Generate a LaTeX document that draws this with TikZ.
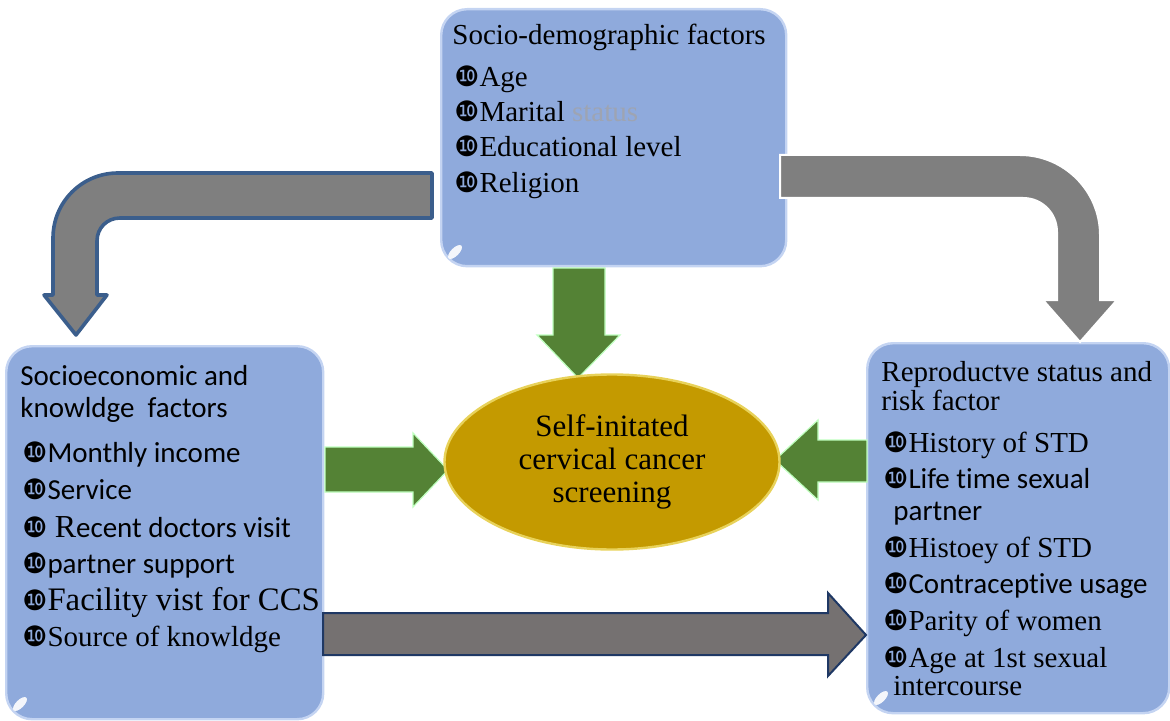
\documentclass[tikz,border=0pt]{standalone}
\usepackage{fontspec}
\setmainfont{Liberation Serif}
\newfontfamily\carlito[Ligatures=NoCommon]{Carlito}
\newfontfamily\dingfont{DejaVu Sans}
\usetikzlibrary{shapes.geometric}
\definecolor{boxblue}{RGB}{143,170,220}
\definecolor{boxrim}{RGB}{196,212,242}
\definecolor{leafgreen}{RGB}{84,130,53}
\definecolor{gold}{RGB}{196,154,0}
\definecolor{goldrim}{RGB}{232,210,90}
\definecolor{bendgrey}{RGB}{127,127,127}
\definecolor{flatgrey}{RGB}{117,113,113}
\definecolor{steel}{RGB}{59,94,140}
\definecolor{navy}{RGB}{31,56,100}
\definecolor{faint}{RGB}{158,164,178}
\newcommand{\bul}{{\dingfont\fontsize{14}{14}\selectfont\char"277F}}

\tikzset{
  factorbox/.style={draw=boxrim, line width=1.2pt, fill=boxblue, rounded corners=13pt, anchor=north west, inner sep=0},
  item/.style={anchor=base west, inner sep=0, font=\fontsize{14.5}{17}\selectfont},
  greenarrow/.style={fill=leafgreen, draw=green!25!white, line width=0.6pt},
  curl/.style={fill=white, draw=none, opacity=0.9}
}

\begin{document}
\begin{tikzpicture}[x=0.5pt,y=-0.5pt]
\useasboundingbox (0,0) rectangle (1170,721);
% bent arrow to the left box
\draw[fill=bendgrey, draw=steel, line width=1.8pt, line join=round] (432,173) -- (118,173) .. controls (82,173) and (53,202) .. (53,238) -- (53,295) -- (44,295) -- (76,335) -- (107,295) -- (97,295) -- (97,241) .. controls (97,228) and (107,218) .. (120,218) -- (432,218) -- cycle;
% the three boxes
\node[factorbox, minimum width=172.5pt, minimum height=128.5pt] (demo) at (440,8) {};
\node[factorbox, minimum width=158.5pt, minimum height=186.5pt] (econ) at (5,345) {};
\node[factorbox, minimum width=151pt, minimum height=185pt] (repro) at (866,342) {};
\fill[curl, rotate around={45:(455,252)}] (455,252) ellipse (9 and 4);
\fill[curl, rotate around={45:(20,704)}] (20,704) ellipse (9 and 4);
\fill[curl, rotate around={45:(881,698)}] (881,698) ellipse (9 and 4);
% bent arrow to the right box
\draw[fill=bendgrey, draw=white, line width=1pt] (780,155) -- (1020,155) .. controls (1064,155) and (1100,191) .. (1100,235) -- (1100,300) -- (1117,300) -- (1080,342) -- (1043,300) -- (1057,300) -- (1057,232) .. controls (1057,213) and (1042,198) .. (1023,198) -- (780,198) -- cycle;
% straight grey arrow
\draw[fill=flatgrey, draw=navy, line width=1pt] (323,613) -- (828,613) -- (828,593) -- (866,635) -- (828,676) -- (828,655) -- (323,655) -- cycle;
% green arrows
\draw[greenarrow] (553,268) -- (605,268) -- (605,335) -- (620,335) -- (578,378) -- (537,335) -- (553,335) -- cycle;
\draw[greenarrow] (325,447) -- (413,447) -- (413,433) -- (448,470) -- (413,507) -- (413,492) -- (325,492) -- cycle;
\draw[greenarrow] (867,440) -- (818,440) -- (818,420) -- (775,460) -- (818,500) -- (818,482) -- (867,482) -- cycle;
% centre
\node[ellipse, fill=gold, draw=goldrim, line width=1.2pt, minimum width=167.5pt, minimum height=87.5pt, align=center, font=\fontsize{15.5}{16.5}\selectfont] (ccs) at (612,462) {Self-initated\\cervical cancer\\screening};
% top box text
\node[item] (demot) at (452,45) {Socio-demographic factors};
\foreach \y/\t [count=\i] in {87/Age, 122/{Marital \textcolor{faint}{status}}, 157/Educational level, 193/Religion}
  \node[item] (demo\i) at (454,\y) {\bul\t};
% left box text
\node[item] (econt1) at (20,385) {\carlito Socioeconomic and};
\node[item] (econt2) at (20,417) {\carlito knowldge\ \ factors};
\foreach \y/\t [count=\i] in {462/{\carlito Monthly income}, 499/{\carlito Service}, 537/{\ {\fontsize{16}{17}\selectfont R}{\carlito ecent doctors visit}}, 573/{\carlito partner support}, 610/{\fontsize{16.4}{17}\selectfont Facility vist for CCS}, 646/Source of knowldge}
  \node[item] (econ\i) at (22,\y) {\bul\t};
% right box text
\node[item] (reprot1) at (881,381) {Reproductve status and};
\node[item] (reprot2) at (881,410) {risk factor};
\foreach \y/\t [count=\i] in {452/History of STD, 488/{\carlito Life time sexual}, 557/Histoey of STD, 593/{\carlito Contraceptive usage}, 630/Parity of women, 667/Age at 1st sexual}
  \node[item] (repro\i) at (883,\y) {\bul\t};
\node[item] (repro2b) at (893,520) {\carlito partner};
\node[item] (repro6b) at (893,695) {intercourse};
\end{tikzpicture}
\end{document}
